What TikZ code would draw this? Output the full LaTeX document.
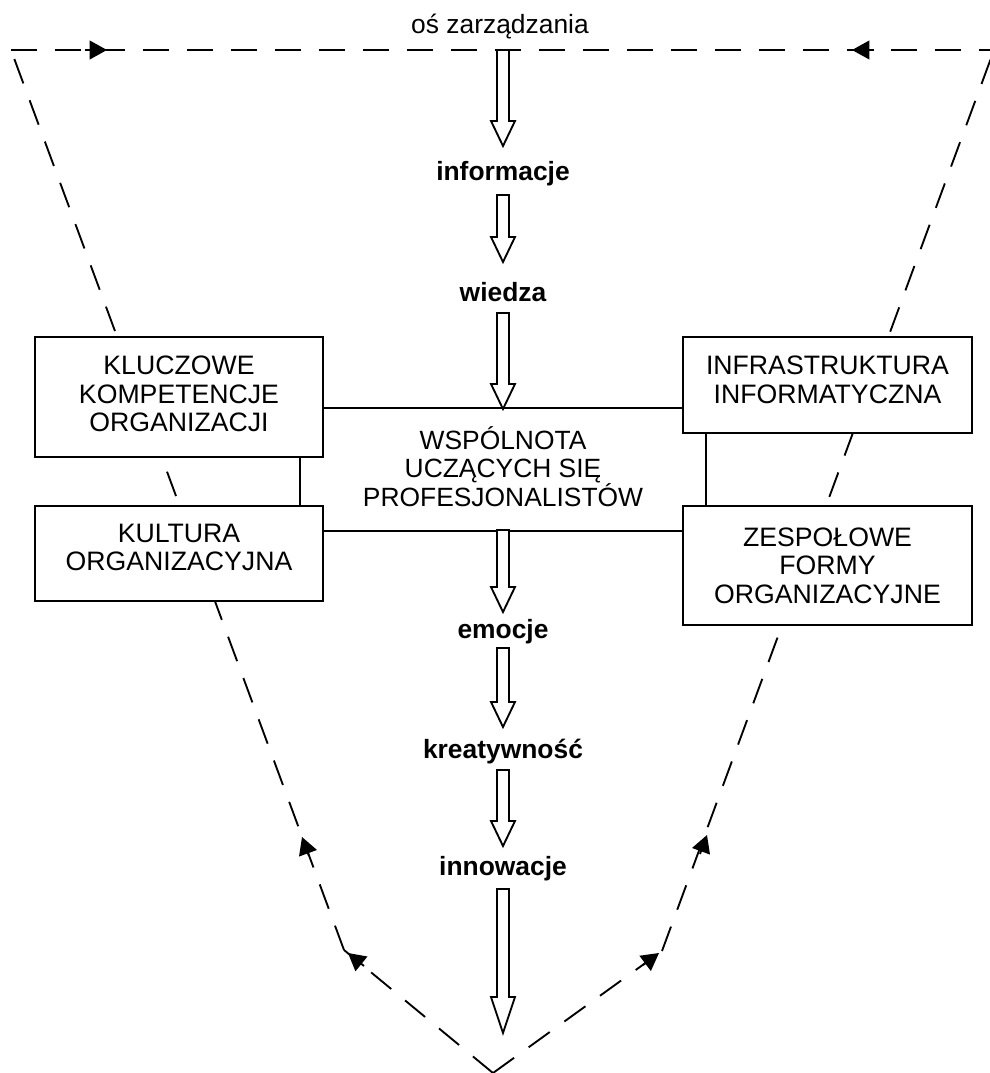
\documentclass[tikz,border=0pt]{standalone}
\usepackage{fontspec}
\setmainfont{Liberation Sans}
\usetikzlibrary{arrows.meta,calc}
\newcommand\harrow[4]{\draw[hollow] (#1-6,#2) -- (#1+6,#2) -- (#1+6,#3-#4) -- (#1+12,#3-#4) -- (#1,#3) -- (#1-12,#3-#4) -- (#1-6,#3-#4) -- cycle;}
\begin{document}
\begin{tikzpicture}[x=0.75pt,y=-0.75pt,line width=1.4pt,
  box/.style={draw,fill=white,inner sep=0pt},
  boxtext/.style={align=center,inner sep=0pt,font=\fontsize{20}{21.5}\selectfont},
  lbl/.style={font=\bfseries\fontsize{19.8}{21.5}\selectfont,inner sep=0pt,anchor=base},
  axisline/.style={dash pattern=on 19.5pt off 13.5pt},
  tipar/.style={-{Triangle[length=13pt,width=14pt]}},
  hollow/.style={draw,fill=white,line join=miter}]
\useasboundingbox (0,0) rectangle (989,1073);
% dashed management axis
\coordinate (TL) at (11,50);
\coordinate (TR) at (994,50);
\coordinate (BL) at (344,950);
\coordinate (BR) at (662,951);
\coordinate (B) at (493,1073);
\draw[axisline] (TL) -- (TR);
\draw[axisline] (BL) -- (TL);
\draw[axisline] (BR) -- (TR);
\draw[axisline] (B) -- (BL);
\draw[axisline] (B) -- (BR);
% arrowheads on the axis
\draw[tipar] (85,50) -- (107,50);
\draw[tipar] (874,50) -- (852,50);
\draw[tipar] (309,856) -- (302,837);
\draw[tipar] (700,854) -- (707,835);
\draw[tipar] (364,966) -- (348,953);
\draw[tipar] (643,965) -- (659,953);
\node[font=\fontsize{19.8}{21.5}\selectfont,anchor=base,inner sep=0pt] (axis) at (500,34) {oś zarządzania};
% boxes
\node[box,minimum width=216pt,minimum height=90pt] (K) at (179,397) {};
\node[boxtext] (Kt) at ([yshift=2.25pt]K.center) {KLUCZOWE\\KOMPETENCJE\\ORGANIZACJI};
\node[box,minimum width=216pt,minimum height=71.25pt] (KU) at (179,553.5) {};
\node[boxtext] (KUt) at ([yshift=4.5pt]KU.center) {KULTURA\\ORGANIZACYJNA};
\node[box,minimum width=216.75pt,minimum height=72pt] (I) at (827.5,385) {};
\node[boxtext] (It) at ([yshift=3.75pt]I.center) {INFRASTRUKTURA\\INFORMATYCZNA};
\node[box,minimum width=216.75pt,minimum height=89.25pt] (Z) at (827.5,565.5) {};
\node[boxtext] (Zt) at (Z.center) {ZESPOŁOWE\\FORMY\\ORGANIZACYJNE};
\node[inner sep=0pt,minimum width=270pt,minimum height=90.4pt] (W) at (503,469.5) {};
\node[boxtext,font=\fontsize{19.8}{21.5}\selectfont] (Wt) at ([yshift=2.25pt]W.center) {WSPÓLNOTA\\UCZĄCYCH SIĘ\\PROFESJONALISTÓW};
\draw (W.north west) -- (W.north east);
\draw (W.south west) -- (W.south east);
\draw ([xshift=-18pt]K.south east) -- ([xshift=-18pt]KU.north east);
\draw ([xshift=18pt]I.south west) -- ([xshift=18pt]Z.north west);
% labels
\node[lbl] (inf) at (503,181) {informacje};
\node[lbl] (wie) at (503,301) {wiedza};
\node[lbl] (emo) at (503,638) {emocje};
\node[lbl] (kre) at (503,758) {kreatywność};
\node[lbl] (inn) at (503,875) {innowacje};
% hollow arrows
\harrow{503}{50}{146}{25}
\harrow{503}{195}{262}{25}
\harrow{503}{313}{409}{25}
\harrow{503}{530}{612}{25}
\harrow{503}{648}{727}{25}
\harrow{503}{770}{846}{25}
\harrow{503}{889}{1033}{36}
\end{tikzpicture}
\end{document}
